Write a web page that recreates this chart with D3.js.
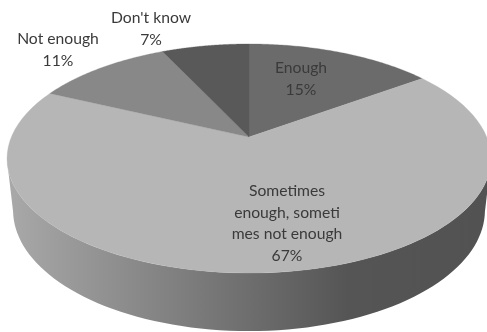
<!DOCTYPE html>
<html><head><meta charset="utf-8">
<script src="https://cdn.jsdelivr.net/npm/d3@7"></script>
<style>html,body{margin:0;padding:0;background:#fff}svg{display:block;filter:blur(0.35px)}
text{font-family:Lato,"Open Sans",sans-serif;font-size:15.7px;fill:#3a3a3a;text-anchor:middle}</style>
</head><body><svg id="c" width="487" height="332"></svg>
<script>
const categories = ["Enough", "Sometimes enough, sometimes not enough", "Not enough", "Don't know"];
const values = [15, 67, 11, 7];
const sliceColors = ["#6b6b6b", "#b6b6b6", "#888888", "#595959"];
const labelLines = [["Enough","15%"],["Sometimes","enough, someti","mes not enough","67%"],["Not enough","11%"],["Don't know","7%"]];
const labelPos = [[301,73],[287,196],[58,44],[151,23]];

const cx=249, cy=137, R=237.7, h=110.5, k=0.1878;
const wallShrink=0.975, wallSide=50, wallFront=58;
const project=a=>{const u=Math.sin(a),v=-Math.cos(a),w=1-k*v;return [cx+R*u/w, cy+h*v/w];};
const projectBase=a=>{const p=project(a),v=Math.max(0,-Math.cos(a));
  return [cx+(p[0]-cx)*wallShrink, p[1]+wallSide+(wallFront-wallSide)*v];};
const arcPts=(a0,a1,f=project)=>d3.range(0,81).map(i=>f(a0+(a1-a0)*i/80));
const line=d3.line();
const svg=d3.select("#c");
const defs=svg.append("defs");
const grad=defs.append("linearGradient").attr("id","side").attr("gradientUnits","userSpaceOnUse")
  .attr("x1",7).attr("x2",487).attr("y1",0).attr("y2",0);
[[0,"#a9a9a9"],[0.35,"#808080"],[0.71,"#555555"],[1,"#525252"]].forEach(s=>grad.append("stop").attr("offset",s[0]).attr("stop-color",s[1]));

const TAU=Math.PI*2, a0=TAU*0.282, a1=TAU*0.718;
svg.append("path").attr("fill","url(#side)")
  .attr("d",line(arcPts(a0,a1).concat(arcPts(a1,a0,projectBase)))+"Z");

const pie=d3.pie().sort(null)(values);
svg.append("g").selectAll("path").data(pie).join("path")
  .attr("fill",(d,i)=>sliceColors[i])
  .attr("stroke",(d,i)=>sliceColors[i]).attr("stroke-width",0.3)
  .attr("d",d=>line([[cx,cy]].concat(arcPts(d.startAngle,d.endAngle)))+"Z");

svg.append("g").selectAll("text").data(labelLines).join("text")
  .attr("transform",(d,i)=>`translate(${labelPos[i][0]},${labelPos[i][1]})`)
  .each(function(d){d3.select(this).selectAll("tspan").data(d).join("tspan")
    .attr("x",0).attr("dy",(t,j)=>j?21.5:0).text(t=>t);});
</script></body></html>
